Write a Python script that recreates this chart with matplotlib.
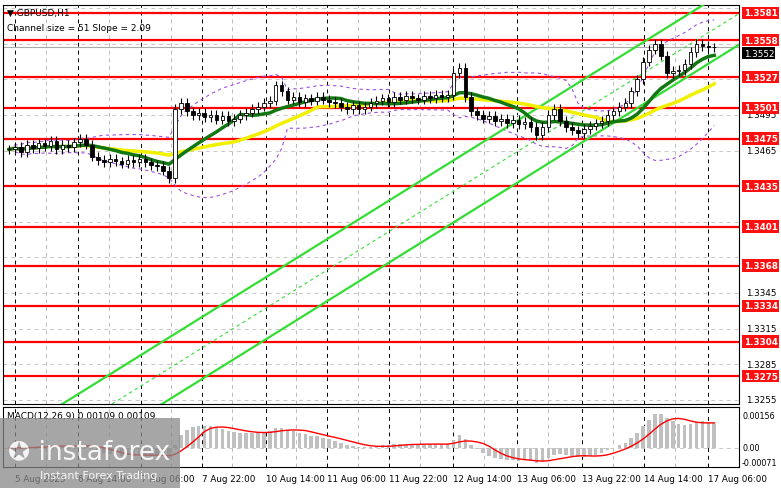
import numpy as np
import pandas as pd
import matplotlib
matplotlib.use("Agg")
import matplotlib.pyplot as plt
import matplotlib.transforms as mtransforms

# hourly closes (one bar per ~1.5 chart hours)
closes = [1.3466, 1.3468, 1.3464, 1.3470, 1.3467, 1.3471, 1.3469, 1.3473, 1.3466, 1.3470,
          1.3468, 1.3472, 1.3475, 1.3470, 1.3460, 1.3457, 1.3455, 1.3458, 1.3456, 1.3454,
          1.3457, 1.3455, 1.3458, 1.3455, 1.3453, 1.3452, 1.3448, 1.3442, 1.3500, 1.3505,
          1.3498, 1.3495, 1.3497, 1.3493, 1.3495, 1.3491, 1.3494, 1.3490, 1.3492, 1.3495,
          1.3497, 1.3500, 1.3502, 1.3505, 1.3507, 1.3520, 1.3515, 1.3508, 1.3510, 1.3506,
          1.3509, 1.3507, 1.3510, 1.3508, 1.3506, 1.3505, 1.3502, 1.3500, 1.3503, 1.3500,
          1.3502, 1.3505, 1.3507, 1.3509, 1.3506, 1.3510, 1.3508, 1.3511, 1.3509, 1.3508,
          1.3511, 1.3509, 1.3512, 1.3510, 1.3512, 1.3530, 1.3535, 1.3510, 1.3498, 1.3495,
          1.3492, 1.3494, 1.3490, 1.3492, 1.3488, 1.3491, 1.3487, 1.3489, 1.3485, 1.3478,
          1.3485, 1.3495, 1.3500, 1.3490, 1.3485, 1.3482, 1.3480, 1.3483, 1.3486, 1.3488,
          1.3490, 1.3495, 1.3498, 1.3502, 1.3505, 1.3515, 1.3525, 1.3540, 1.3550, 1.3555,
          1.3545, 1.3530, 1.3532, 1.3533, 1.3538, 1.3548, 1.3555, 1.3553, 1.3552, 1.3552]
levels = [1.3581, 1.3558, 1.3527, 1.3501, 1.3475, 1.3435, 1.3401, 1.3368, 1.3334, 1.3304, 1.3275]
tick_prices = [1.3255, 1.3285, 1.3315, 1.3345, 1.3465, 1.3495]
x_labels = ["5 Aug 2025", "6 Aug 14:00", "7 Aug 06:00", "7 Aug 22:00", "10 Aug 14:00",
            "11 Aug 06:00", "11 Aug 22:00", "12 Aug 14:00", "13 Aug 06:00", "13 Aug 22:00",
            "14 Aug 14:00", "17 Aug 06:00"]
x_ticks = [1, 11.7, 22.2, 32.5, 43.3, 53.7, 64.2, 75, 85.8, 96.7, 107.2, 118]
last_price = 1.3552

W, H = 781, 489
fig = plt.figure(figsize=(W / 100, H / 100), dpi=100)
fig.patch.set_facecolor("white")
ax = fig.add_axes([0.004, (H - 405) / H, 736 / W, 399 / H])
mx = fig.add_axes([0.004, (H - 468) / H, 736 / W, 60 / H], sharex=ax)

c = pd.Series(closes)
o = c.shift(1).fillna(c.iloc[0])
n = len(c)
idx = np.arange(n)

for a in (ax, mx):
    for s in a.spines.values():
        s.set_color("black")
        s.set_linewidth(0.8)
    a.tick_params(left=False, labelleft=False, right=False, bottom=False, labelbottom=False)
    for xt in x_ticks:
        a.axvline(xt, color="black", ls=(0, (4, 4)), lw=0.7, zorder=0)
        a.axvline(xt + 5.2, color="#bbbbbb", ls=(0, (4, 4)), lw=0.7, zorder=0)

for p in np.arange(1.3255, 1.3590, 0.0030):
    ax.axhline(p, color="#c8c8c8", ls=(0, (4, 4)), lw=0.7, zorder=0)

# channel
slope = 0.000311
base_x, base_p = 25.8, 1.32514
xs = np.array([-2, 125])
low = base_p + slope * (xs - base_x)
for off, lw, ls in [(0, 1.6, "-"), (0.00262, 0.8, (0, (3, 3))), (0.00523, 1.6, "-")]:
    ax.plot(xs, low + off, color="#33dd33", lw=lw, ls=ls, zorder=3)

for lv in levels:
    ax.axhline(lv, color="#ff0000", lw=1.6, zorder=2)
ax.axhline(last_price, color="#aaaaaa", lw=0.8, zorder=1)

# envelopes and averages
bb_mid = c.rolling(20, min_periods=1).mean()
bb_sd = c.rolling(20, min_periods=2).std().fillna(0)
ax.plot(idx, bb_mid + 2 * bb_sd, color="#a050e0", lw=0.8, ls=(0, (3, 3)), zorder=2)
ax.plot(idx, bb_mid - 2 * bb_sd, color="#a050e0", lw=0.8, ls=(0, (3, 3)), zorder=2)
ax.plot(idx, c.rolling(25, min_periods=1).mean(), color="#f0f000", lw=2.5, zorder=4)
ax.plot(idx, c.rolling(12, min_periods=1).mean(), color="#117711", lw=2.5, zorder=4)

# candles
for i in range(n):
    op, cl = o[i], c[i]
    hi, lo = max(op, cl) + 0.0004, min(op, cl) - 0.0004
    ax.vlines(i, lo, hi, color="black", lw=0.8, zorder=5)
    fc = "white" if cl >= op else "black"
    ax.bar(i, max(abs(cl - op), 0.00005), bottom=min(op, cl), width=0.6,
           facecolor=fc, edgecolor="black", lw=0.6, zorder=6)

ax.set_xlim(-1, 123.2)
ax.set_ylim(1.32514, 1.35877)

tr = mtransforms.blended_transform_factory(ax.transAxes, ax.transData)
for p in tick_prices:
    ax.text(1.01, p, f"{p:.4f}", transform=tr, fontsize=6.3, va="center", ha="left")
for lv in levels:
    ax.text(1.006, lv, f"{lv:.4f}", transform=tr, fontsize=6.3, va="center", ha="left",
            color="white", weight="bold", bbox=dict(boxstyle="square,pad=0.2", fc="#ff1010", ec="none"))
ax.text(1.006, last_price - 0.0001, f"{last_price:.4f}", transform=tr, fontsize=6.3, va="top",
        ha="left", color="white", bbox=dict(boxstyle="square,pad=0.15", fc="black", ec="none"))

ax.text(0.005, 0.993, "▼ GBPUSD,H1", transform=ax.transAxes, fontsize=6.5, va="top")
ax.text(0.005, 0.955, "Channel size = 51 Slope = 2.09", transform=ax.transAxes, fontsize=6.5, va="top")

# MACD
macd = c.ewm(span=8, adjust=False).mean() - c.ewm(span=18, adjust=False).mean()
sig = macd.rolling(6, min_periods=1).mean()
mx.bar(idx, macd, width=0.6, color="#c0c0c0", zorder=2)
mx.plot(idx, sig, color="#ff0000", lw=1.0, zorder=3)
mx.axhline(0, color="#c8c8c8", ls=(0, (4, 4)), lw=0.7, zorder=0)
mx.set_ylim(-0.0009, 0.00194)
trm = mtransforms.blended_transform_factory(mx.transAxes, mx.transData)
for v, t in [(0.00156, "0.00156"), (0, "0.00"), (-0.00071, "-0.00071")]:
    mx.text(1.004, v, t, transform=trm, fontsize=5.8, va="center", ha="left")
mx.text(0.005, 0.93, "MACD(12,26,9) 0.00109 0.00109", transform=mx.transAxes, fontsize=6.5, va="top")

for xt, lab in zip(x_ticks, x_labels):
    mx.text(xt, -0.12, lab, transform=mtransforms.blended_transform_factory(mx.transData, mx.transAxes),
            fontsize=6.3, va="top", ha="left")

# logo
fig.patches.append(plt.Rectangle((0, 0), 180 / W, 70 / H, transform=fig.transFigure,
                                 fc="#888888", alpha=0.75, ec="none", zorder=10))
fig.text(8 / W, 30 / H, "✪ instaforex", fontsize=19, color="white", zorder=11, alpha=0.9)
fig.text(40 / W, 10 / H, "Instant Forex Trading", fontsize=8, color="white", zorder=11, alpha=0.9)

fig.savefig("out.png", dpi=100)
